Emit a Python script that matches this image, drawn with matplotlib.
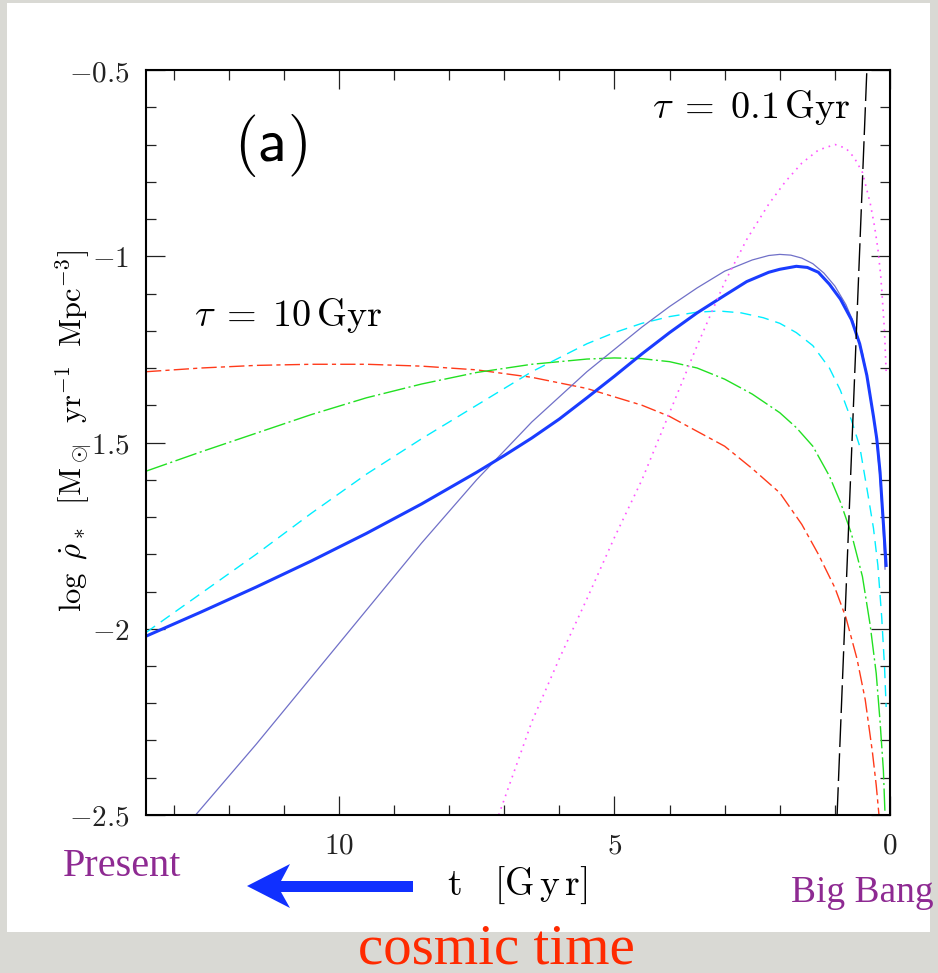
import numpy as np
import matplotlib
matplotlib.use("Agg")
import matplotlib.pyplot as plt
from matplotlib.patches import Rectangle, Polygon
from matplotlib.ticker import MultipleLocator, FuncFormatter

plt.rcParams['mathtext.fontset'] = 'cm'

# --- data: t [Gyr] vs log rho_dot ---
t_red = [13.5, 12.5, 11.5, 10.5, 9.5, 8.5, 7.5, 6.5, 5.5, 4.5, 4.0, 3.5, 3.0, 2.5, 2.0, 1.6, 1.3, 1.0, 0.8, 0.6, 0.45, 0.32, 0.25, 0.2]
y_red = [-1.31, -1.30, -1.293, -1.29, -1.29, -1.295, -1.305, -1.325, -1.355, -1.40, -1.43, -1.47, -1.51, -1.57, -1.635, -1.72, -1.80, -1.89, -1.97, -2.08, -2.19, -2.33, -2.42, -2.5]

t_green = [13.5, 12.5, 11.5, 10.5, 9.5, 8.5, 7.5, 6.5, 5.5, 5.0, 4.5, 4.0, 3.5, 3.0, 2.5, 2.0, 1.7, 1.4, 1.1, 0.9, 0.7, 0.5, 0.36, 0.25, 0.18, 0.12, 0.09]
y_green = [-1.577, -1.525, -1.475, -1.425, -1.38, -1.343, -1.312, -1.29, -1.276, -1.273, -1.275, -1.283, -1.30, -1.33, -1.37, -1.42, -1.46, -1.51, -1.59, -1.66, -1.745, -1.86, -1.99, -2.12, -2.25, -2.38, -2.5]

t_cyan = [13.5, 12.5, 11.5, 10.5, 9.5, 8.5, 7.5, 6.5, 5.5, 5.0, 4.5, 4.0, 3.5, 3.1, 2.7, 2.3, 2.0, 1.7, 1.4, 1.1, 0.9, 0.7, 0.55, 0.4, 0.3, 0.22, 0.15, 0.1, 0.07]
y_cyan = [-2.01, -1.905, -1.80, -1.69, -1.585, -1.49, -1.40, -1.31, -1.235, -1.205, -1.18, -1.162, -1.15, -1.147, -1.152, -1.165, -1.18, -1.205, -1.24, -1.30, -1.36, -1.44, -1.51, -1.64, -1.73, -1.83, -1.97, -2.10, -2.21]

t_blue = [13.5, 12.5, 11.5, 10.5, 9.5, 8.5, 7.5, 7.0, 6.5, 6.0, 5.5, 5.0, 4.5, 4.0, 3.5, 3.0, 2.6, 2.2, 2.0, 1.7, 1.5, 1.3, 1.1, 0.9, 0.7, 0.55, 0.42, 0.3, 0.24, 0.18, 0.15, 0.11, 0.07]
y_blue = [-2.02, -1.955, -1.888, -1.818, -1.744, -1.665, -1.58, -1.535, -1.488, -1.437, -1.38, -1.322, -1.262, -1.205, -1.152, -1.105, -1.068, -1.043, -1.035, -1.027, -1.03, -1.043, -1.075, -1.115, -1.17, -1.235, -1.32, -1.43, -1.49, -1.58, -1.65, -1.74, -1.83]

t_slate = [12.6, 11.5, 10.5, 9.5, 8.5, 7.5, 6.5, 5.5, 5.0, 4.5, 4.0, 3.5, 3.0, 2.5, 2.2, 2.0, 1.8, 1.6, 1.4, 1.2, 1.0, 0.8, 0.67, 0.5, 0.42, 0.3, 0.24, 0.18, 0.13, 0.09]
y_slate = [-2.5, -2.31, -2.13, -1.95, -1.77, -1.60, -1.445, -1.31, -1.25, -1.19, -1.135, -1.085, -1.04, -1.01, -0.998, -0.995, -0.997, -1.005, -1.02, -1.045, -1.08, -1.13, -1.175, -1.26, -1.32, -1.43, -1.50, -1.60, -1.71, -1.84]

t_mag = [7.1, 6.5, 6.0, 5.5, 5.0, 4.5, 4.0, 3.5, 3.0, 2.6, 2.2, 1.9, 1.6, 1.3, 1.0, 0.8, 0.65, 0.5, 0.36, 0.28, 0.22, 0.17, 0.145, 0.1, 0.07]
y_mag = [-2.5, -2.25, -2.08, -1.92, -1.755, -1.60, -1.42, -1.24, -1.07, -0.955, -0.86, -0.80, -0.75, -0.715, -0.70, -0.71, -0.735, -0.775, -0.857, -0.92, -0.98, -1.05, -1.10, -1.20, -1.31]

t_black = [0.96, 0.69, 0.42]
y_black = [-2.5, -1.5, -0.5]

W, H = 938, 973
fig = plt.figure(figsize=(W / 100, H / 100), dpi=100, facecolor='#d9d9d4')

def fx(x):
    return x / W

def fy(y):
    return 1 - y / H

# white slide panel
fig.patches.append(Rectangle((fx(7), fy(932)), (930 - 7) / W, (932 - 3) / H,
                             transform=fig.transFigure, facecolor='white',
                             edgecolor='none', zorder=-1))

ax = fig.add_axes([fx(146), fy(815), (890 - 146) / W, (815 - 70) / H])
ax.set_xlim(13.5, 0)
ax.set_ylim(-2.5, -0.5)

ax.plot(t_red, y_red, color='#ff3a1a', lw=1.0, dashes=(11, 3, 3, 3))
ax.plot(t_green, y_green, color='#22e022', lw=1.0, dashes=(16, 2.5, 1.5, 2.5))
ax.plot(t_cyan, y_cyan, color='#00eeff', lw=1.0, dashes=(8, 5))
ax.plot(t_slate, y_slate, color='#7070c8', lw=0.9)
ax.plot(t_blue, y_blue, color='#1a3cff', lw=2.2)
ax.plot(t_mag, y_mag, color='#ff55ff', lw=1.2, dashes=(1.0, 3.0))
ax.plot(t_black, y_black, color='black', lw=1.0, dashes=(20, 4.5))

ax.xaxis.set_major_locator(MultipleLocator(5))
ax.xaxis.set_minor_locator(MultipleLocator(1))
ax.yaxis.set_major_locator(MultipleLocator(0.5))
ax.yaxis.set_minor_locator(MultipleLocator(0.1))
ax.tick_params(which='both', direction='in', top=True, right=True, width=0.9, colors='#222222')
ax.tick_params(which='major', length=13.5, pad=12, labelsize=21)
ax.tick_params(which='minor', length=7.2)
ax.tick_params(axis='x', which='major', pad=12)
for s in ax.spines.values():
    s.set_linewidth(1.5)

ax.xaxis.set_major_formatter(FuncFormatter(lambda v, p: r'$%g$' % v))
ax.yaxis.set_major_formatter(FuncFormatter(lambda v, p: r'$%g$' % v))

ax.text(0.167, 0.899, r'$\mathsf{(a)}$', transform=ax.transAxes, fontsize=44,
        ha='center', va='center')
ax.text(0.813, 0.950, r'$\tau\;=\;0.1\,\mathrm{Gyr}$', transform=ax.transAxes,
        fontsize=27.5, ha='center', va='center')
ax.text(0.191, 0.670, r'$\tau\;=\;10\,\mathrm{Gyr}$', transform=ax.transAxes,
        fontsize=27.5, ha='center', va='center')

# axis labels
fig.text(fx(73), fy(431),
         r'$\log\ \dot{\rho}_*\ \ [\mathrm{M}_\odot\ \ \mathrm{yr}^{-1}\ \ \mathrm{Mpc}^{-3}]$',
         rotation=90, ha='center', va='center', fontsize=22)
fig.text(fx(517), fy(885), r'$\mathrm{t}\ \ \ [\mathrm{G\,y\,r}]$',
         ha='center', va='center', fontsize=27)

# slide annotations
serif = ['Liberation Serif', 'DejaVu Serif']
fig.text(fx(122), fy(867), 'Present', family=serif, fontsize=29, color='#8e2a92',
         ha='center', va='center')
fig.text(fx(862), fy(893), 'Big Bang', family=serif, fontsize=27, color='#8e2a92',
         ha='center', va='center')
fig.text(fx(496), fy(950), 'cosmic time', family=serif, fontsize=41, color='#ff2a00',
         ha='center', va='center')

arrow = [(247, 886), (290, 864), (281, 881), (413, 881), (413, 892), (281, 892), (290, 908)]
fig.patches.append(Polygon([(fx(x), fy(y)) for x, y in arrow], closed=True,
                           transform=fig.transFigure, facecolor='#1030ff',
                           edgecolor='none', zorder=2))

fig.savefig('out.png', dpi=100, facecolor=fig.get_facecolor())
